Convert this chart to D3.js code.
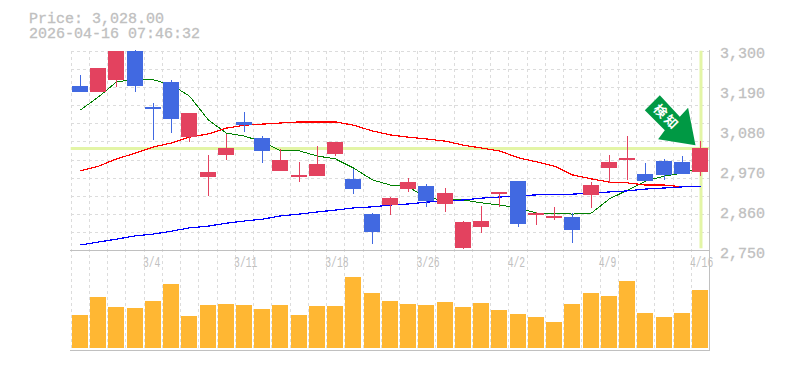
<!DOCTYPE html>
<html>
<head>
<meta charset="utf-8">
<style>
  html, body { margin: 0; padding: 0; background: #fff; overflow: hidden; }
  text { font-family: "Liberation Mono", monospace; fill: #c0c0c0; }
</style>
<script src="https://cdn.jsdelivr.net/npm/d3@7/dist/d3.min.js"></script>
</head>
<body>
<div id="chart"></div>
<script>
const priceText = 'Price: 3,028.00';
const timeText = '2026-04-16 07:46:32';
const lastPrice = 3028;
const arrowLabel = '検知';

const dates = ['2/26', '2/27', '3/2', '3/3', '3/4', '3/5', '3/6', '3/9', '3/10', '3/11', '3/12', '3/13', '3/16', '3/17', '3/18', '3/19', '3/20', '3/23', '3/24', '3/26', '3/27', '3/30', '3/31', '4/1', '4/2', '4/3', '4/6', '4/7', '4/8', '4/9', '4/10', '4/13', '4/14', '4/15', '4/16'];
const dateLabels = ['3/4', '3/11', '3/18', '3/26', '4/2', '4/9', '4/16'];
const priceTicks = [3300, 3190, 3080, 2970, 2860, 2750];
const priceGrid = [3300, 3250, 3200, 3150, 3100, 3050, 3000, 2950, 2900, 2850, 2800, 2750];

const opens = [3200, 3183, 3217, 3296, 3142, 3211, 3059, 2949, 3010, 3101, 3057, 2966, 2949, 2952, 3013, 2944, 2847, 2872, 2916, 2924, 2875, 2754, 2811, 2905, 2938, 2845, 2839, 2839, 2900, 2974, 2999, 2957, 2993, 2991, 2963];
const highs = [3230, 3250, 3296, 3299, 3153, 3217, 3126, 3010, 3068, 3128, 3062, 3026, 2991, 3035, 3046, 2971, 2850, 2894, 2946, 2930, 2919, 2828, 2869, 2908, 2938, 2853, 2867, 2850, 2935, 3010, 3062, 2988, 2999, 3007, 3048];
const lows = [3183, 3183, 3197, 3183, 3051, 3070, 3046, 2897, 2996, 3073, 2988, 2966, 2935, 2952, 3007, 2902, 2765, 2845, 2908, 2867, 2853, 2750, 2795, 2867, 2811, 2817, 2831, 2767, 2864, 2933, 2941, 2938, 2941, 2957, 2952];
const closes = [3183, 3250, 3296, 3200, 3137, 3109, 3126, 2963, 3029, 3092, 3021, 2996, 2955, 2985, 3046, 2916, 2798, 2891, 2935, 2883, 2905, 2825, 2828, 2908, 2820, 2850, 2842, 2803, 2927, 2991, 3002, 2938, 2955, 2957, 3028];
const maShort = [3134, 3170, 3211, 3219, 3217, 3203, 3172, 3106, 3070, 3062, 3046, 3021, 3021, 3007, 2999, 2974, 2941, 2927, 2922, 2891, 2886, 2886, 2878, 2872, 2864, 2850, 2850, 2847, 2850, 2889, 2913, 2938, 2952, 2960, 2974];
const maMid = [2966, 2979, 2999, 3015, 3032, 3043, 3059, 3068, 3084, 3092, 3095, 3098, 3101, 3101, 3101, 3092, 3076, 3065, 3059, 3054, 3048, 3037, 3029, 3021, 3002, 2991, 2979, 2955, 2944, 2935, 2933, 2927, 2927, 2922, 2922];
const maLong = [2762, 2770, 2778, 2787, 2792, 2800, 2809, 2814, 2822, 2828, 2833, 2842, 2847, 2853, 2858, 2864, 2867, 2872, 2875, 2880, 2883, 2886, 2891, 2894, 2897, 2900, 2900, 2902, 2905, 2908, 2911, 2916, 2919, 2922, 2924];
const volumes = [33, 51, 41, 40, 47, 64, 32, 43, 44, 43, 39, 43, 33, 42, 42, 71, 55, 47, 44, 43, 46, 41, 45, 38, 34, 31, 26, 44, 55, 52, 67, 35, 31, 35, 58];

const chartWidth = 785;
const chartHeight = 370;
const plotLeft = 70.7;
const plotRight = 709.1;
const plotTop = 50.7;
const priceBottom = 250.3;
const volBottom = 351;

const svg = d3.select('#chart')
  .append('svg')
  .attr('width', chartWidth)
  .attr('height', chartHeight)
  .style('display', 'block');

const xscale = d3.scaleBand()
  .domain(d3.range(dates.length))
  .range([plotLeft, plotRight])
  .paddingInner(0.123)
  .paddingOuter(0.0615);

const yscale = d3.scaleLinear()
  .domain([2750, 3300])
  .range([priceBottom, plotTop]);

const vscale = d3.scaleLinear()
  .domain([0, 98])
  .range([348, 250]);

const barX = i => Math.round(xscale(i));
const midX = i => barX(i) + 8.5;
const edgeX = i => Math.round(xscale(i) - xscale.step() * 0.0615) + 0.5;
const crisp = v => Math.round(v) + 0.5;

// grid
const grid = svg.append('g')
  .attr('stroke', '#dcdcdc')
  .attr('stroke-dasharray', '3,3')
  .attr('shape-rendering', 'crispEdges');

grid.selectAll('.hgrid')
  .data(priceGrid)
  .enter()
  .append('line')
  .attr('x1', plotLeft)
  .attr('x2', plotRight)
  .attr('y1', d => crisp(yscale(d)))
  .attr('y2', d => crisp(yscale(d)));

grid.selectAll('.vgrid')
  .data(d3.range(dates.length))
  .enter()
  .append('line')
  .attr('x1', edgeX)
  .attr('x2', edgeX)
  .attr('y1', plotTop)
  .attr('y2', volBottom);

// frame
const frame = svg.append('g')
  .attr('stroke', '#c0c0c0')
  .attr('shape-rendering', 'crispEdges');
frame.append('line').attr('x1', 70).attr('x2', 710).attr('y1', 250.5).attr('y2', 250.5);
frame.append('line').attr('x1', 70).attr('x2', 710).attr('y1', 350.5).attr('y2', 350.5);
frame.append('line').attr('x1', 709.5).attr('x2', 709.5).attr('y1', 50).attr('y2', 351);

// marks sit 1px above the scale, same as the original image
const marks = svg.append('g').attr('transform', 'translate(0,-1)');

// current price and date highlight
marks.append('line')
  .attr('x1', plotLeft)
  .attr('x2', plotRight)
  .attr('y1', yscale(lastPrice))
  .attr('y2', yscale(lastPrice))
  .attr('stroke', '#e3f5a6')
  .attr('stroke-width', 3);

marks.append('line')
  .attr('x1', midX(dates.length - 1) + 0.5)
  .attr('x2', midX(dates.length - 1) + 0.5)
  .attr('y1', plotTop + 1)
  .attr('y2', priceBottom - 1)
  .attr('stroke', '#e3f5a6')
  .attr('stroke-width', 3);

// moving averages
const line = d3.line()
  .x((d, i) => midX(i))
  .y(d => yscale(d));

[[maShort, '#008000', 1], [maMid, '#ff0000', 1.2], [maLong, '#0000ff', 1.2]].forEach(([values, color, w]) => {
  marks.append('path')
    .datum(values)
    .attr('d', line)
    .attr('fill', 'none')
    .attr('stroke', color)
    .attr('stroke-width', w)
    .attr('shape-rendering', 'crispEdges');
});

// candles
const candleColor = i => (closes[i] >= opens[i] ? '#e3425f' : '#4169e1');

marks.selectAll('.wick')
  .data(d3.range(dates.length))
  .enter()
  .append('line')
  .attr('x1', midX)
  .attr('x2', midX)
  .attr('y1', i => yscale(highs[i]))
  .attr('y2', i => yscale(lows[i]))
  .attr('stroke', candleColor)
  .attr('shape-rendering', 'crispEdges');

marks.selectAll('.body')
  .data(d3.range(dates.length))
  .enter()
  .append('rect')
  .attr('x', barX)
  .attr('width', 16)
  .attr('y', i => yscale(Math.max(opens[i], closes[i])))
  .attr('height', i => Math.max(2, Math.abs(yscale(opens[i]) - yscale(closes[i]))))
  .attr('fill', candleColor)
  .attr('shape-rendering', 'crispEdges');

// volume
svg.selectAll('.vol')
  .data(volumes)
  .enter()
  .append('rect')
  .attr('x', (d, i) => barX(i))
  .attr('width', 16)
  .attr('y', d => vscale(d))
  .attr('height', d => vscale(0) - vscale(d))
  .attr('fill', '#ffb733')
  .attr('shape-rendering', 'crispEdges');

// arrow, placed relative to the last candle's high
const arrow = svg.append('g')
  .attr('transform', `translate(${midX(dates.length - 1) - 5},${yscale(highs[dates.length - 1]) + 3})`);

arrow.append('path')
  .attr('d', 'M0,0L-7.4,-37.3L-15.7,-28.3L-35.7,-50L-50.7,-35L-30.7,-15L-37.4,-6Z')
  .attr('fill', '#009944');

arrow.append('text')
  .attr('transform', 'translate(-29,-28) rotate(45)')
  .attr('text-anchor', 'middle')
  .attr('dy', '0.36em')
  .style('font-family', '"Noto Sans CJK JP"')
  .style('font-size', '13px')
  .style('font-weight', 'bold')
  .style('letter-spacing', '2px')
  .style('fill', '#fff')
  .text(arrowLabel);

// Axis
const priceAxis = svg.append('g')
  .attr('transform', 'translate(710, 2)')
  .call(d3.axisRight(yscale)
    .tickValues(priceTicks)
    .tickSize(0)
    .tickPadding(10)
    .tickFormat(d3.format(',')));
priceAxis.select('.domain').remove();
priceAxis.selectAll('text')
  .style('font-size', '15px')
  .style('font-family', '"Liberation Mono"')
  .style('fill', '#c0c0c0')
  .style('stroke', '#c0c0c0')
  .style('stroke-width', 0.3);

const dateAxis = svg.append('g')
  .attr('transform', 'translate(-11, 256)')
  .call(d3.axisBottom(d3.scalePoint().domain(dates).range([midX(0), midX(dates.length - 1)]))
    .tickValues(dates.filter(d => dateLabels.includes(d)))
    .tickSize(0)
    .tickPadding(0));
dateAxis.select('.domain').remove();
dateAxis.selectAll('text')
  .attr('y', 10.5)
  .attr('dy', 0)
  .attr('text-anchor', 'start')
  .attr('textLength', d => d.length * 5.8)
  .attr('lengthAdjust', 'spacingAndGlyphs')
  .style('font-size', '14px')
  .style('font-family', '"Liberation Mono"')
  .style('fill', '#c0c0c0');

svg.append('text')
  .attr('x', 29)
  .attr('y', 23)
  .style('font-size', '15px')
  .style('stroke', '#c0c0c0')
  .style('stroke-width', 0.3)
  .text(priceText);

svg.append('text')
  .attr('x', 29)
  .attr('y', 38)
  .style('font-size', '15px')
  .style('stroke', '#c0c0c0')
  .style('stroke-width', 0.3)
  .text(timeText);
</script>
</body>
</html>
